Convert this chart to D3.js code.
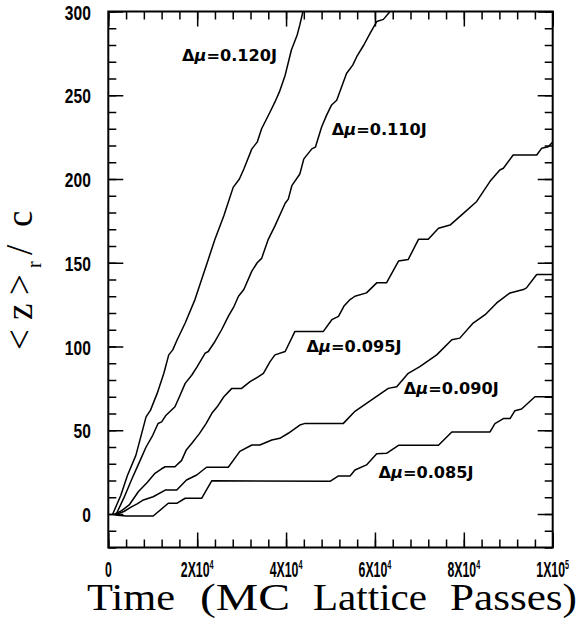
<!DOCTYPE html>
<html><head><meta charset="utf-8">
<script src="https://d3js.org/d3.v7.min.js"></script>
<style>
body{margin:0;background:#fff}
.ax line{stroke:#000;stroke-width:1.5}
.ax path{display:none}
.frame{fill:none;stroke:#000;stroke-width:2}
.curve{fill:none;stroke:#000;stroke-width:1.5;stroke-linejoin:round}
.tk{font-family:'Liberation Sans',sans-serif;font-weight:bold;font-size:20px}
.xk{font-size:22px}
.lab{font-family:'DejaVu Sans',sans-serif;font-weight:bold;font-size:15px}
.ttl{font-family:'Liberation Serif',serif;font-size:37px}
</style></head><body>
<svg id="fig" width="579" height="621"></svg>
<script>
// time in units of 1e3 MC lattice passes, value <z>_r / c
var c120=[[1,0],[2.8,11],[4.3,23],[6.2,35],[7.5,48],[8.5,58],[9.5,62],[11,72],[12.5,84],[13.6,95],[14.5,98],[15.5,104],[17.3,114],[19.5,128],[21,140],[22.5,152],[24,164],[26,178],[28.1,195],[29.5,200],[30.5,206],[32.3,218],[33.5,222],[34.5,230],[36.4,240],[37.5,246],[38.5,252],[39.8,262],[41.2,277],[42.5,286],[43.1,292],[43.8,300]];
var c110=[[1.9,0.6],[3.5,9.6],[5.4,21.5],[7,31],[8.5,40],[10,47],[11.2,54],[12,55],[13,59],[15,64],[16,70],[17.3,78],[18.8,83],[20,88],[21.8,96],[22.5,97],[24,103],[25.5,110],[27,118],[28.3,124],[29.3,130],[30.5,134],[32.3,145],[33.5,150],[34.5,152.6],[36,164],[37.5,172],[39.8,185.5],[40.5,188],[41.3,196],[43.1,203],[44,212],[45.8,218],[46.6,219],[48,231],[49.1,238],[50.2,244],[51.4,247],[53.6,263],[55,268],[55.9,273],[57.5,280],[58.9,287],[60.4,294],[61.9,295.3],[63.4,300]];
var c095=[[1.5,0],[3,2],[4.7,5.4],[6.75,13.3],[8.8,19],[10.5,24.3],[12,27],[12.8,28.2],[15,28.2],[16.5,32],[17.5,38],[18.8,42.2],[20.5,48],[22,54],[23.3,60.1],[24.5,64],[26,70],[27.8,75],[30,75],[31.9,79],[33.8,82],[34.9,84],[36.4,91],[37.5,95],[39.8,97],[42,109],[48.4,109],[50.3,116],[51.8,118],[53,124],[54.4,128],[55.5,130],[58.1,132],[60.4,138],[62.6,138],[65.3,151],[67.5,152],[69.8,164],[72,164],[74.3,170.6],[76.9,172.5],[79.9,179.5],[82.9,186.6],[85.9,198.6],[88.1,205.4],[88.9,206.4],[91.1,214.3],[96.4,214.3],[97.5,218.3],[99,219.3],[100,222]];
var c090=[[2,0],[3.5,1.5],[5.3,4.4],[6.5,6],[7.9,8.4],[10.1,10.3],[12.8,14.3],[15.4,14.3],[17.6,20.3],[19.9,23.3],[22.1,27.9],[27,27.9],[29.6,37.4],[32.3,41.2],[34.1,41.2],[36.8,44.2],[38.6,45.2],[40.5,48.2],[43.1,53.1],[44.3,54.1],[52.9,54.1],[55.5,61.3],[58.1,66],[60.8,71],[63,75],[64.9,76],[67.5,84],[70.1,88],[73.9,95],[77.3,104],[79.1,105],[82.1,114],[84.8,119],[87.4,126],[90.4,132],[93.4,134],[94.1,135],[96.4,143],[100,143]];
var c085=[[1,0],[2,-0.8],[4,-1.2],[10.1,-1.2],[13.5,6.4],[15.4,6.4],[17.3,9.4],[21,9.4],[23.3,19.9],[49.9,19.5],[51.8,22.7],[54.4,22.7],[55.5,26.3],[58.1,29.3],[60.4,36],[62.6,36.2],[65.3,41],[74.3,41],[77.3,49],[85.9,49],[87,54],[88.9,57],[90.4,57],[91.5,61.7],[93,62.7],[96,70],[100,70]];
var curves=[c120,c110,c095,c090,c085];
var curveNames=['0.120J','0.110J','0.095J','0.090J','0.085J'];
var labelAt=[[16.6,270.4],[50.3,226.3],[44.6,96.7],[66.5,71.6],[60.8,21.5]];  // data coords of label start
var xTickVals=[0,20,40,60,80,100],
    xTickMant=['0','2X10','4X10','6X10','8X10','1X10'],
    xTickExp=['','4','4','4','4','5'];
var yTickVals=[0,50,100,150,200,250,300];
var titleWords=['Time','(MC','Lattice','Passes)'];

var ml=108.3,mt=11.5,W=444.4,H=536;
var svg=d3.select('#fig');
var g=svg.append('g').attr('transform','translate('+ml+','+mt+')');
var x=d3.scaleLinear().domain([0,100]).range([0,W]),
    y=d3.scaleLinear().domain([-20,300]).range([H,0]);
var xMinor=d3.range(0,100.01,4),xMajor=d3.range(0,100.01,20),
    yMinor=d3.range(-20,300.01,10),yMajor=d3.range(0,300.01,50);
function ax(gen,scale,vals,len,tr){
  g.append('g').attr('class','ax').attr('transform',tr)
   .call(gen(scale).tickValues(vals).tickSizeInner(-len).tickSizeOuter(0).tickFormat(''));
}
[[xMinor,8],[xMajor,15]].forEach(function(p){
  ax(d3.axisBottom,x,p[0],p[1],'translate(0,'+H+')');
  ax(d3.axisTop,x,p[0],p[1],'translate(0,0)');
});
[[yMinor,8],[yMajor,15]].forEach(function(p){
  ax(d3.axisLeft,y,p[0],p[1],'translate(0,0)');
  ax(d3.axisRight,y,p[0],p[1],'translate('+W+',0)');
});
g.append('rect').attr('class','frame').attr('width',W).attr('height',H);

var line=d3.line().x(function(d){return x(d[0]);}).y(function(d){return y(d[1]);});
g.selectAll('path.curve').data(curves).enter().append('path')
 .attr('class','curve').attr('d',line);

// curve labels
curveNames.forEach(function(n,i){
  var t=g.append('text').attr('class','lab')
    .attr('x',x(labelAt[i][0])).attr('y',y(labelAt[i][1]))
    .attr('textLength',95).attr('lengthAdjust','spacingAndGlyphs');
  t.append('tspan').text('\u0394');
  t.append('tspan').attr('font-style','italic').text('\u03bc');
  t.append('tspan').text('='+n);
});

// y tick labels (condensed)
g.selectAll('g.yt').data(yTickVals).enter().append('g')
 .attr('class','yt').attr('transform',function(d){return 'translate(-17.5,'+(y(d)+8)+') scale(0.78,1)';})
 .append('text').attr('class','tk').attr('text-anchor','end').text(function(d){return d;});

// x tick labels (condensed)
xTickVals.forEach(function(v,i){
  var t=g.append('g').attr('transform','translate('+x(v)+','+(H+29)+') scale(0.56,1)')
    .append('text').attr('class','tk xk').attr('text-anchor','middle');
  t.append('tspan').text(xTickMant[i]);
  if(xTickExp[i]) t.append('tspan').attr('font-size','13px').attr('dy',-8).text(xTickExp[i]);
});

// axis titles
var wordX=[87,200,313,450],wordW=[88,90,114,127];
titleWords.forEach(function(w,i){
  svg.append('text').attr('class','ttl').attr('x',wordX[i]).attr('y',610)
   .attr('textLength',wordW[i]).attr('lengthAdjust','spacingAndGlyphs').text(w);
});
var yt=svg.append('text').attr('class','ttl').attr('font-size','34px')
 .attr('transform','translate(32,350) rotate(-90)');
yt.append('tspan').attr('x',0).text('<');
yt.append('tspan').attr('x',30).text('z');
yt.append('tspan').attr('x',55).text('>');
yt.append('tspan').attr('x',82).attr('font-size','20px').attr('dy',9).text('r');
yt.append('tspan').attr('x',95).attr('dy',-9).text('/');
yt.append('tspan').attr('x',123).text('c');
</script>
</body></html>
